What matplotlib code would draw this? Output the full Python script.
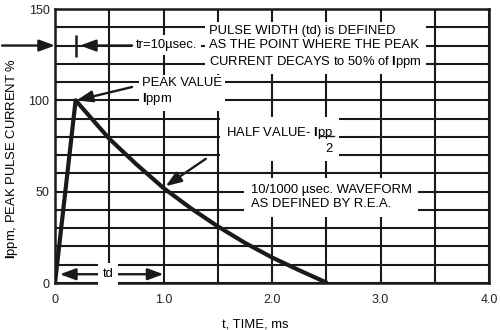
import numpy as np
import matplotlib
matplotlib.use('Agg')
import matplotlib.pyplot as plt

plt.rcParams['font.family'] = ['Liberation Sans', 'DejaVu Sans']
plt.rcParams['mathtext.fontset'] = 'custom'
plt.rcParams['mathtext.rm'] = 'Liberation Sans'
plt.rcParams['mathtext.bf'] = 'Liberation Sans:bold'
plt.rcParams['mathtext.it'] = 'Liberation Sans:italic'

# 10/1000 usec waveform
t_ms = [0, 0.19, 0.5, 0.75, 1.0, 1.25, 1.5, 1.75, 2.0, 2.25, 2.51]
current_pct = [0, 100, 79, 65, 52, 41, 31, 22, 14, 7, 0]

x_ticks = [0, 1, 2, 3, 4]
x_labels = ['0', '1.0', '2.0', '3.0', '4.0']
y_ticks = [0, 50, 100, 150]

fig = plt.figure(figsize=(5, 3.3), dpi=100)
ax = fig.add_axes([0.11, 0.1424, 0.868, 0.8303])

ax.set_xlim(0, 4)
ax.set_ylim(0, 150)
ax.set_xticks(x_ticks)
ax.set_xticklabels(x_labels)
ax.set_yticks(y_ticks)
ax.set_xticks(np.arange(0, 4.01, 0.5), minor=True)
ax.set_yticks(np.arange(0, 151, 10), minor=True)
ax.tick_params(which='both', length=0, labelsize=9, colors='#222222')
ax.tick_params(axis='x', pad=8)
ax.tick_params(axis='y', pad=4)
ax.grid(which='both', color='#1a1a1a', linewidth=1.5)
ax.set_axisbelow(True)
for s in ax.spines.values():
    s.set_linewidth(1.8)
    s.set_color('#1a1a1a')

# waveform
ax.plot(t_ms, current_pct, color='#1a1a1a', linewidth=3.0, solid_capstyle='butt',
        solid_joinstyle='round', zorder=3)

fs = 9.4

ax.text(1.42, 129, 'PULSE WIDTH (td) is DEFINED\nAS THE POINT WHERE THE PEAK\nCURRENT DECAYS to 50% of $\\mathbf{I}$ppm',
        ha='left', va='center', fontsize=fs, linespacing=1.25,
        bbox=dict(boxstyle='square,pad=0.35', fc='white', ec='none'), zorder=4)
ax.text(0.746, 130.3, 'tr=10µsec.', ha='left', va='center', fontsize=fs,
        bbox=dict(boxstyle='square,pad=0.3', fc='white', ec='none'), zorder=4)
ax.text(0.80, 104.5, 'PEAK VALUE\n$\\mathbf{I}$ppm', ha='left', va='center', fontsize=fs,
        linespacing=1.25, bbox=dict(boxstyle='square,pad=0.25', fc='white', ec='none'), zorder=4)
ax.text(2.56, 78.3, 'HALF VALUE- $\\mathbf{I}$pp\n2', ha='right', va='center', multialignment='right',
        fontsize=fs, linespacing=1.25, bbox=dict(boxstyle='square,pad=0.45', fc='white', ec='none'), zorder=4)
ax.plot([2.43, 2.57], [80.4, 80.4], color='#1a1a1a', linewidth=1.0, zorder=5)
ax.text(1.806, 47, '10/1000 µsec. WAVEFORM\nAS DEFINED BY R.E.A.', ha='left', va='center', fontsize=fs,
        linespacing=1.25, bbox=dict(boxstyle='square,pad=0.5', fc='white', ec='none'), zorder=4)

arrow = dict(arrowstyle='-|>,head_length=0.95,head_width=0.35', color='#1a1a1a', lw=1.7,
             shrinkA=0, shrinkB=0)
# tr marker
ax.vlines(0.195, 124, 136, color='#1a1a1a', linewidth=1.8, zorder=5)
ax.annotate('', xy=(0.23, 130), xytext=(0.71, 130), arrowprops=arrow, zorder=5)
# outside arrow pointing at the axis
ax.annotate('', xy=(0, 130), xycoords='data', xytext=(-0.122, 130),
            textcoords=('axes fraction', 'data'), arrowprops=arrow, annotation_clip=False, zorder=5)
# peak and half value arrows
ax.annotate('', xy=(0.2, 100), xytext=(0.71, 107.3), arrowprops=arrow, zorder=5)
ax.annotate('', xy=(1.02, 53), xytext=(1.39, 68), arrowprops=arrow, zorder=5)
# td span
ax.annotate('', xy=(0.045, 4.8), xytext=(1.0, 4.8),
            arrowprops=dict(arrowstyle='<|-|>,head_length=0.95,head_width=0.35', color='#1a1a1a',
                            lw=1.7, shrinkA=0, shrinkB=0), zorder=5)
ax.text(0.49, 4.9, 'td', ha='center', va='center', fontsize=fs,
        bbox=dict(boxstyle='square,pad=0.35', fc='white', ec='none'), zorder=6)

ax.set_xlabel('t, TIME, ms', fontsize=fs)
ax.set_ylabel('$\\mathbf{I}$ppm, PEAK PULSE CURRENT %', fontsize=fs)
ax.xaxis.set_label_coords(0.461, -0.128)
ax.yaxis.set_label_coords(-0.081, 0.456)

fig.savefig('out.png', dpi=100)
